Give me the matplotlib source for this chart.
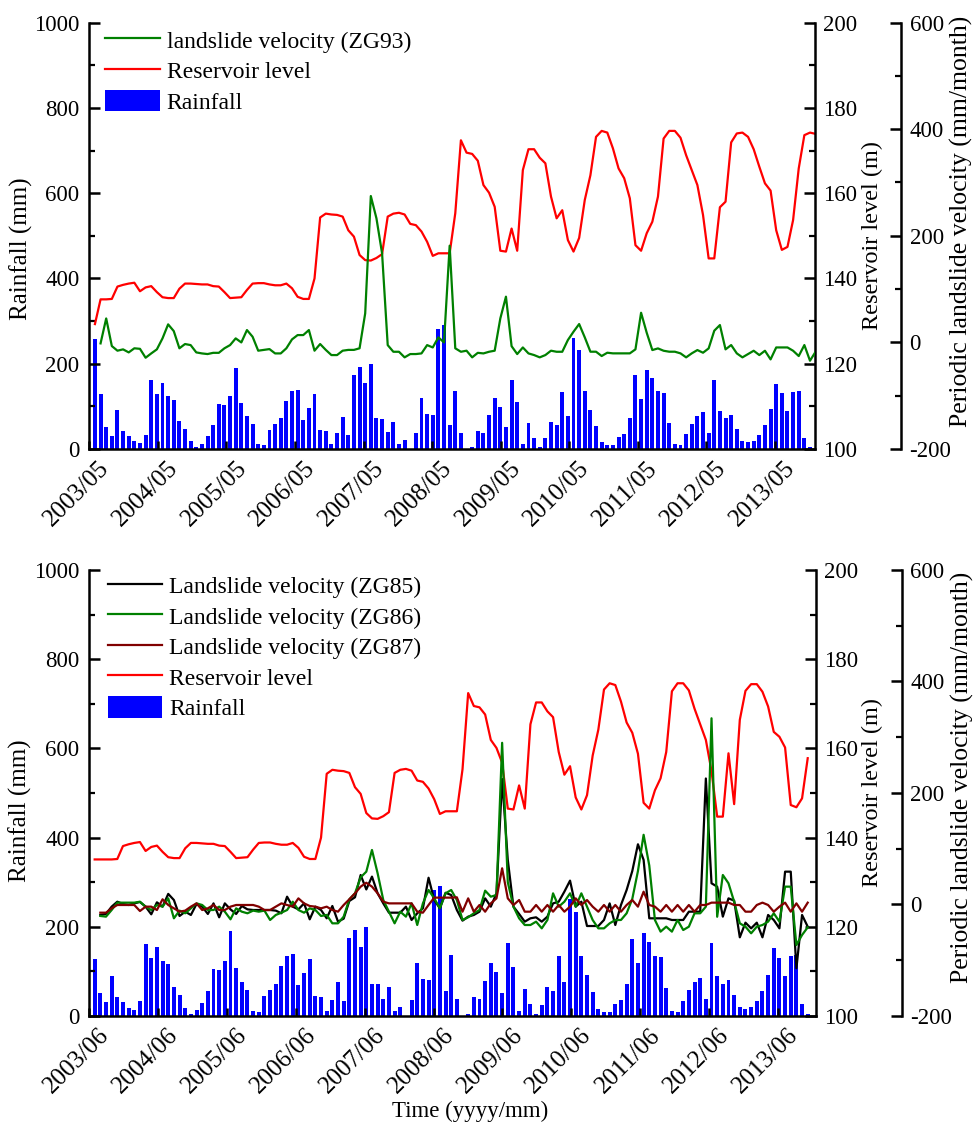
import numpy as np
import matplotlib
matplotlib.use('Agg')
import matplotlib.pyplot as plt
from matplotlib.ticker import MultipleLocator
from matplotlib.transforms import ScaledTranslation

plt.rcParams['font.family'] = ['Liberation Serif', 'DejaVu Serif']
plt.rcParams['axes.unicode_minus'] = False

# monthly rainfall (mm), bars 1..128 in the upper panel
rainfall = [258, 128, 51.5, 31, 90.5, 42, 31, 18, 14, 34, 162, 130, 154, 124, 116, 66,
            46, 18, 5, 12.5, 30, 56, 106, 104, 124, 190.5, 108, 76.5, 59, 12, 9, 44.5,
            58.5, 72.6, 112, 135, 138, 69, 96, 128, 44, 42, 11.7, 36.7, 75.7, 32.8,
            174, 192.8, 153.8, 200.6, 71.8, 71, 39, 64, 11.7, 20.3, 0, 36.7, 118.7, 82,
            79.6, 282.6, 292, 57, 136.6, 38.3, 0, 3.9, 42, 38.3, 78.8, 118.7, 99, 52.3,
            163, 109.3, 11.7, 60, 26.5, 4.7, 25, 64, 57, 133.5, 77.3, 261.5, 233.4, 135,
            91.3, 53.9, 16.4, 8.6, 8.6, 27.3, 35.1, 72.6, 172.5, 117.9, 185.8, 167, 135,
            132, 61.7, 11.7, 8.6, 34.3, 58.5, 77.3, 85.9, 37.5, 163, 89, 71.8, 80.4,
            46.8, 19.5, 16.4, 19.5, 32.8, 56.2, 92.9, 152.2, 130.4, 89, 133.5, 135.8,
            26.5, 5.5]

# reservoir level (m), upper panel, points 1..129
reservoir_top = [129.3, 135.1, 135.1, 135.2, 138.1, 138.5, 138.8, 139.0, 137.0, 137.9,
                 138.2, 136.8, 135.6, 135.4, 135.4, 137.6, 138.8, 138.8, 138.7, 138.6,
                 138.6, 138.2, 138.1, 136.8, 135.4, 135.5, 135.6, 137.3, 138.8, 138.9,
                 138.9, 138.6, 138.4, 138.4, 138.8, 137.7, 135.7, 135.2, 135.2, 140.0,
                 154.3, 155.2, 155.0, 154.9, 154.5, 151.3, 149.8, 145.5, 144.3, 144.2,
                 144.8, 145.7, 154.5, 155.2, 155.4, 155.0, 152.8, 152.5, 151.0, 148.6,
                 145.3, 145.9, 145.9, 145.9, 155.3, 172.4, 169.5, 169.2, 167.6, 161.9,
                 160.1, 156.8, 146.5, 146.3, 151.7, 146.5, 165.4, 170.3, 170.3, 168.3,
                 167.0, 159.2, 154.1, 156.0, 149.0, 146.3, 149.5, 158.4, 164.2, 173.2,
                 174.6, 174.2, 170.5, 165.8, 163.5, 158.8, 147.8, 146.5, 150.6, 153.3,
                 159.2, 172.8, 174.6, 174.6, 173.0, 168.9, 165.4, 161.9, 154.9, 144.7,
                 144.7, 156.7, 158.0, 171.9, 174.0, 174.2, 173.2, 170.3, 166.2, 162.3,
                 160.6, 151.3, 146.7, 147.4, 153.7, 165.8, 173.6, 174.2, 173.9]

# periodic velocity ZG93 (mm/month), points 2..129
vel_zg93 = [-1.8, 45, -6.8, -15.5, -13, -18.7, -11, -12, -28.7, -20.6, -13, 7.6, 33.9,
            21.3, -11, -3, -5, -18.7, -20.6, -21.8, -19.5, -19.5, -11, -5, 7.6, 0, 23.2,
            10.7, -15.5, -14, -12.5, -20.6, -20.6, -11, 5.7, 13.8, 13.8, 23.2, -15.5, -3,
            -14, -23.7, -23.7, -15.5, -14, -14, -11, 54.5, 274.6, 232.7, 167, -5, -17.5,
            -17.5, -28, -21.8, -21.8, -20.6, -5, -9.4, 9.5, 0, 181.4, -11, -17.5, -15.5,
            -28, -19.5, -20.6, -17.5, -15.5, 45, 85.8, -7, -21.8, -9.4, -20.6, -23.7, -28,
            -23.7, -15.5, -17.5, -17.5, 4.5, 20.1, 34.5, 9.5, -17.4, -17.4, -25.5, -19.3,
            -20.5, -20.5, -20.5, -20.5, -13, 55.7, 18.2, -14.3, -11.2, -15.6, -17.4, -17.4,
            -20.5, -28, -20.5, -14.3, -19.3, -11.2, 22, 32.6, -13, -4.9, -20.5, -28, -21.8,
            -15.6, -23.7, -15.6, -31.8, -9.4, -9.4, -9.4, -15.6, -25.5, -4.9, -34.3, -17.4]

# lower panel: reservoir level (m), points 1..127
reservoir_low = [135.1, 135.1, 135.1, 135.1, 135.2, 138.1, 138.5, 138.8, 139.0, 137.0,
                 137.9, 138.2, 136.8, 135.6, 135.4, 135.4, 137.6, 138.8, 138.8, 138.7,
                 138.6, 138.6, 138.2, 138.1, 136.8, 135.4, 135.5, 135.6, 137.3, 138.8,
                 138.9, 138.9, 138.6, 138.4, 138.4, 138.8, 137.7, 135.7, 135.2, 135.2,
                 140.0, 154.3, 155.2, 155.0, 154.9, 154.5, 151.3, 149.8, 145.5, 144.3,
                 144.2, 144.8, 145.7, 154.5, 155.2, 155.4, 155.0, 152.8, 152.5, 151.0,
                 148.6, 145.3, 145.9, 145.9, 145.9, 155.3, 172.4, 169.5, 169.2, 167.6,
                 161.9, 160.1, 156.8, 146.5, 146.3, 151.7, 146.5, 165.4, 170.3, 170.3,
                 168.3, 167.0, 159.2, 154.1, 156.0, 149.0, 146.3, 149.5, 158.4, 164.2,
                 173.2, 174.6, 174.2, 170.5, 165.8, 163.5, 158.8, 147.8, 146.5, 150.6,
                 153.3, 159.2, 172.8, 174.6, 174.6, 173.0, 168.9, 165.4, 161.9, 154.9,
                 144.7, 144.7, 158.9, 147.5, 166.4, 172.9, 174.4, 174.4, 172.7, 169.4,
                 163.7, 162.6, 160.2, 147.3, 146.8, 148.8, 157.8]

# lower panel velocities (mm/month), points 2..127
vel_zg85 = [-18.8, -17, -3.9, 5, 0.9, -0.9, 2, 4.5, -3.9, -17.6, 3.9, -3.9, 19, 8, -20.6,
            -12.9, -18.8, 0.9, -3.9, -17, 2, -23, 2, -8.7, -17, -2.7, -8.7, -9.9, -9.9,
            -9.9, -9.9, -11, -15.8, 14, -3.9, -8.7, 2, -26.6, -3.9, -9.9, -24.8, -2.7,
            -30.8, -25.4, 6.3, 12.9, 52.9, 27, 50, 20, 2, -14.7, -14.7, -14.7, -3.9,
            -27.8, -15.8, -6.9, 48, 8, -6.9, 21, 17, -9.9, -29, -21.8, -18.8, -12.9, 11,
            -3.9, 20, 225, 80, -3.9, -17, -30.8, -24.8, -23, -30.8, -21.8, 2, 5, 23, 42.8,
            -3.9, 5, -38.6, -38.6, -38.6, -27.8, 2, -36.8, -0.9, 26, 60, 108, 80, -24.8,
            -24.8, -24.8, -24.8, -27.8, -27.8, -27.8, -12.9, -12.9, -12.9, 226, 38, 32,
            -21.8, 11, 6.9, -58.9, -32.6, -42.8, -32.6, -58.9, -18.8, -27.8, -42.8, 58.9,
            58.9, -114.5, -18.8, -39.8]
vel_zg86 = [-20.6, -21.8, -9.9, 3.3, 3.3, 3.3, 3.3, 5, -3.9, -9.9, -0.9, -3.9, 11, -24.8,
            -11, -15.8, -6.9, 2, -0.9, -9.9, -9.9, -3.9, -12.9, -26.6, -6.9, -12.9, -15.8,
            -11, -12.9, -11, -27.8, -18.8, -14.7, -9.9, 5, -9.9, -14.7, -6.9, -9.9, -20.6,
            -18.8, -33.8, -33.8, -21.8, 9.3, 20, 48.7, 58.9, 97.8, 55.9, 8, -12.9, -33.8,
            -12.9, -21.8, 2, -36.8, 2, 26, 11, -6.9, 20, 26, 8, -27.8, -23, -15.8, -9.9,
            24.8, 14, 17, 290, 40, -3.9, -24.8, -36.8, -36.8, -30.8, -42.8, -27.8, 20,
            -3.9, 5, 20, -3.9, 20, -3.9, -27.8, -42.8, -42.8, -33.8, -27.8, -27.8, -15.8,
            10, 60, 125, 70, -27.8, -48.7, -39.8, -48.7, -27.8, -45.8, -39.8, -15.8,
            -15.8, -3.9, 334, -22, 52.9, 38, 5, -33.8, -39.8, -51.7, -39.8, -36.8, -30.8,
            -15.8, -30.8, 32, 32, -72.7, -54.7, -41]
vel_zg87 = [-14.7, -14.7, -6.9, -0.9, -0.9, -0.9, -0.9, -11.7, -3.9, -3.9, -9.9, 9.3, -0.9,
            -6.9, -12.9, -11, -3.9, 2, -9.9, -6.9, -0.9, -9.9, -9.9, -3.9, -0.9, -0.9,
            -0.9, -0.9, -3.9, -9.9, -9.9, -3.9, 2, -0.9, -3.9, 11, 2, -2.7, -3.9, -6.9,
            -3.9, -9.9, -12.9, -0.9, 9.3, 20, 32, 39, 32, 20, 5, 2, 2, 2, 2, 2, -12.9,
            -14.7, -0.9, 12.3, 12.3, 12.3, 12.3, 12.9, -12.9, 11, -12.9, -0.9, -12.9, 2,
            11, 64.9, 11, -0.9, 8, -12.9, -12.9, -0.9, -12.9, -0.9, -12.9, -0.9, -12.9,
            -3.9, 11, -0.9, 8, -3.9, -12.9, -0.9, -12.9, -0.9, -12.9, -0.9, 8, -3.9, 23,
            -0.9, -3.9, -12.9, -0.9, -12.9, -0.9, -12.9, -0.9, -12.9, -0.9, -0.9, 3.3,
            3.3, 3.3, 3.3, -0.9, -0.9, -12.9, -12.9, -0.9, 3.3, -0.9, -12.9, -3.9, 3.3,
            -12.9, 2, -12.9, 3.3]

labels_top = ['2003/05', '2004/05', '2005/05', '2006/05', '2007/05', '2008/05',
              '2009/05', '2010/05', '2011/05', '2012/05', '2013/05']
labels_low = ['2003/06', '2004/06', '2005/06', '2006/06', '2007/06', '2008/06',
              '2009/06', '2010/06', '2011/06', '2012/06', '2013/06']

FS_TICK = 16.5
FS_XTICK = 18
FS_LEG = 17
LW = 1.6


def style_y(ax):
    ax.tick_params(axis='y', which='major', direction='in', length=8, width=1.8,
                   labelsize=FS_TICK, pad=6)
    ax.tick_params(axis='y', which='minor', direction='in', length=4.5, width=1.6)


def draw_panel(rect, xmax, tick_labels, rain, res, res_x0, vel_list, vel_x0,
               legend_anchor, rain_label_y, xlabel=None):
    ax = fig.add_axes(rect)
    axr = ax.twinx()
    axv = ax.twinx()
    axv.spines['right'].set_position(('outward', 62))

    bars = ax.bar(np.arange(1, len(rain) + 1), rain, width=0.7, color='#0000ff',
                  label='Rainfall', zorder=1)
    lr, = axr.plot(np.arange(res_x0, res_x0 + len(res)), res, color='#ff0000', lw=LW,
                   label='Reservoir level')
    vel_handles = []
    for vals, col, lab in vel_list:
        h, = axv.plot(np.arange(vel_x0, vel_x0 + len(vals)), vals, color=col, lw=LW,
                      label=lab)
        vel_handles.append(h)

    ax.set_xlim(0, xmax)
    ax.set_ylim(0, 1000)
    axr.set_ylim(100, 200)
    axv.set_ylim(-200, 600)

    ax.yaxis.set_major_locator(MultipleLocator(200))
    ax.yaxis.set_minor_locator(MultipleLocator(100))
    axr.yaxis.set_major_locator(MultipleLocator(20))
    axr.yaxis.set_minor_locator(MultipleLocator(10))
    axv.yaxis.set_major_locator(MultipleLocator(200))
    axv.yaxis.set_minor_locator(MultipleLocator(100))

    ax.set_xticks(np.arange(11) * 365.25 / 30)
    ax.set_xticklabels(tick_labels, rotation=45, ha='right', rotation_mode='anchor',
                       fontsize=FS_XTICK)
    ax.tick_params(axis='x', direction='in', length=6, width=1.8, pad=6)
    shift = ScaledTranslation(0.09, 0, fig.dpi_scale_trans)
    for lbl in ax.get_xticklabels():
        lbl.set_transform(lbl.get_transform() + shift)

    for a in (ax, axr, axv):
        style_y(a)
        a.spines['top'].set_visible(False)
        for s in a.spines.values():
            s.set_linewidth(1.8)
    ax.tick_params(axis='y', which='major', pad=7)
    ax.spines['right'].set_visible(False)
    for a in (axr, axv):
        a.spines['left'].set_visible(False)
        a.spines['bottom'].set_visible(False)

    ax.set_ylabel('Rainfall (mm)', fontsize=18)
    ax.yaxis.set_label_coords(-0.078, rain_label_y)
    axr.set_ylabel('Reservoir level (m)', fontsize=17.5, labelpad=3)
    axv.set_ylabel('Periodic landslide velocity (mm/month)', fontsize=18.5,
                   labelpad=-1)
    axv.yaxis.label.set_y(0.535)
    if xlabel:
        ax.set_xlabel(xlabel, fontsize=16.5)
        ax.xaxis.set_label_coords(0.524, -0.19)

    handles = vel_handles + [lr, bars]
    axv.legend(handles=handles, loc='upper left', bbox_to_anchor=legend_anchor,
               frameon=False, fontsize=FS_LEG, handlelength=2.3, handleheight=1.0,
               handletextpad=0.3, labelspacing=0.29, borderaxespad=0, borderpad=0)


fig = plt.figure(figsize=(9.76, 11.28), dpi=100)

draw_panel([0.0915, 0.6019, 0.7436, 0.3781], 128.9, labels_top, rainfall,
           reservoir_top, 1, [(vel_zg93, '#008000', 'landslide velocity (ZG93)')], 2,
           (0.022, 0.985), 0.47)

draw_panel([0.0912, 0.0993, 0.7445, 0.3954], 128.4, labels_low, rainfall[1:],
           reservoir_low, 1,
           [(vel_zg85, '#000000', 'Landslide velocity (ZG85)'),
            (vel_zg86, '#008000', 'Landslide velocity (ZG86)'),
            (vel_zg87, '#800000', 'Landslide velocity (ZG87)')], 2,
           (0.026, 0.99), 0.46, xlabel='Time (yyyy/mm)')

fig.savefig('out.png', dpi=100)
